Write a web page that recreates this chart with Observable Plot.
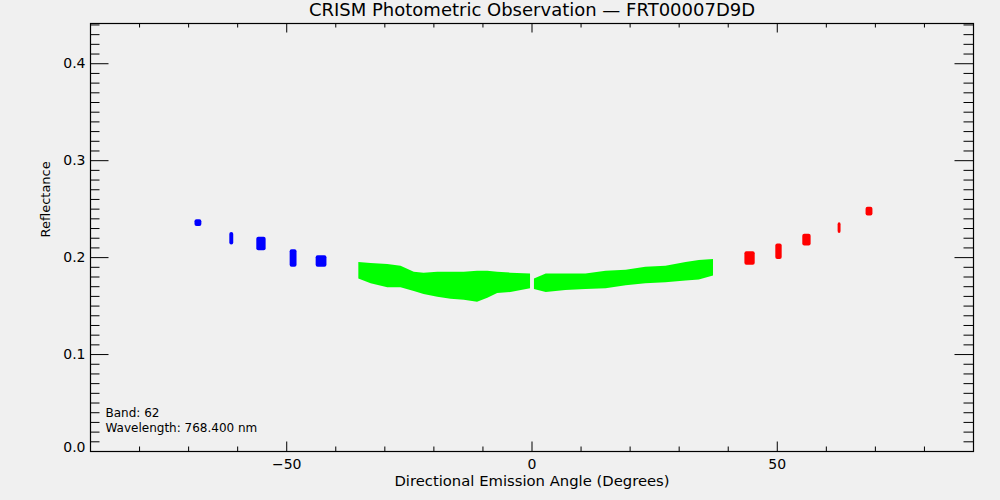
<!DOCTYPE html>
<html><head><meta charset="utf-8">
<script src="https://cdn.jsdelivr.net/npm/d3@7"></script>
<script src="https://cdn.jsdelivr.net/npm/@observablehq/plot@0.6"></script>
<style>html,body{margin:0;padding:0;background:#f0f0f0;}</style>
</head><body><div id="chart"></div>
<script>
// ---- data ----
const titleText = "CRISM Photometric Observation \u2014 FRT00007D9D";
const xLabel = "Directional Emission Angle (Degrees)";
const yLabel = "Reflectance";
const noteLines = ["Band: 62", "Wavelength: 768.400 nm"];

const angleTicksMajor = [-50, 0, 50];
const angleTicksMinor = [-80, -70, -60, -40, -30, -20, -10, 10, 20, 30, 40, 60, 70, 80];
const reflTicksMajor = [0, 0.1, 0.2, 0.3, 0.4];
const reflTicksMinor = [0.01,0.02,0.03,0.04,0.05,0.06,0.07,0.08,0.09,
  0.11,0.12,0.13,0.14,0.15,0.16,0.17,0.18,0.19,
  0.21,0.22,0.23,0.24,0.25,0.26,0.27,0.28,0.29,
  0.31,0.32,0.33,0.34,0.35,0.36,0.37,0.38,0.39,
  0.41,0.42,0.43,0.44];

// green: nadir-ish band (angle, low, high, segment)
const greenAngle = [-35.3,-32.8,-29.4,-26.7,-24.0,-22.0,-19.2,-16.5,-13.8,-11.1,-9.0,-7.0,-4.3,-0.3,
                    0.5,2.9,6.9,11.0,15.1,19.2,23.2,27.3,31.4,34.1,37.0];
const greenLow   = [0.178,0.173,0.169,0.169,0.165,0.162,0.159,0.157,0.156,0.154,0.158,0.163,0.164,0.168,
                    0.167,0.164,0.166,0.167,0.168,0.171,0.173,0.174,0.176,0.177,0.181];
const greenHigh  = [0.195,0.194,0.193,0.191,0.185,0.184,0.185,0.185,0.185,0.186,0.186,0.185,0.184,0.183,
                    0.178,0.183,0.183,0.183,0.186,0.187,0.190,0.191,0.195,0.197,0.198];
const greenSegment = ["a","a","a","a","a","a","a","a","a","a","a","a","a","a",
                      "b","b","b","b","b","b","b","b","b","b","b"];

// blue: negative-angle clusters (angle range, reflectance range)
const blueAngleLo = [-68.7, -61.6, -56.1, -49.3, -44.0];
const blueAngleHi = [-67.3, -60.8, -54.2, -47.9, -41.8];
const blueReflLo  = [0.232, 0.213, 0.207, 0.190, 0.190];
const blueReflHi  = [0.239, 0.226, 0.221, 0.208, 0.202];

// red: positive-angle clusters
const redAngleLo = [43.4, 49.7, 55.2, 62.4, 68.1];
const redAngleHi = [45.5, 51.0, 56.9, 63.0, 69.5];
const redReflLo  = [0.192, 0.198, 0.212, 0.225, 0.243];
const redReflHi  = [0.206, 0.214, 0.224, 0.236, 0.252];

// ---- build tables ----
const green = greenAngle.map((a, i) => ({a, lo: greenLow[i], hi: greenHigh[i], s: greenSegment[i]}));
const blue = blueAngleLo.map((a, i) => ({a1: a, a2: blueAngleHi[i], r1: blueReflLo[i], r2: blueReflHi[i]}));
const red = redAngleLo.map((a, i) => ({a1: a, a2: redAngleHi[i], r1: redReflLo[i], r2: redReflHi[i]}));

const W = 1000, H = 500, mT = 23, mR = 27, mB = 49, mL = 90;
const FW = W - mL - mR, FH = H - mT - mB;
const font = "'DejaVu Sans', 'Liberation Sans', sans-serif";

const chart = Plot.plot({
  width: W, height: H,
  marginTop: mT, marginRight: mR, marginBottom: mB, marginLeft: mL,
  style: {background: "#f0f0f0", fontFamily: font, fontSize: "14px", color: "black"},
  x: {domain: [-90, 90]},
  y: {domain: [0, 0.4415]},
  marks: [
    Plot.areaY(green, {x: "a", y1: "lo", y2: "hi", z: "s", fill: "#00ff00"}),
    Plot.rect(blue, {x1: "a1", x2: "a2", y1: "r1", y2: "r2", fill: "#0000ff", rx: 2}),
    Plot.rect(red, {x1: "a1", x2: "a2", y1: "r1", y2: "r2", fill: "#ff0000", rx: 2}),
    // inward ticks, all four sides
    Plot.ruleX(angleTicksMinor, {x: d => d, insetTop: FH - 4.5, stroke: "black"}),
    Plot.ruleX(angleTicksMajor, {x: d => d, insetTop: FH - 9.5, stroke: "black"}),
    Plot.ruleX(angleTicksMinor, {x: d => d, insetBottom: FH - 4.5, stroke: "black"}),
    Plot.ruleX(angleTicksMajor, {x: d => d, insetBottom: FH - 9.5, stroke: "black"}),
    Plot.ruleY(reflTicksMinor, {y: d => d, insetRight: FW - 9.5, stroke: "black"}),
    Plot.ruleY(reflTicksMajor, {y: d => d, insetRight: FW - 18.5, stroke: "black"}),
    Plot.ruleY(reflTicksMinor, {y: d => d, insetLeft: FW - 9.5, stroke: "black"}),
    Plot.ruleY(reflTicksMajor, {y: d => d, insetLeft: FW - 18.5, stroke: "black"}),
    Plot.frame({stroke: "black", strokeWidth: 1.2}),
    Plot.axisX({ticks: angleTicksMajor, tickSize: 0, tickPadding: 8, label: null, fontSize: 14, fill: "black"}),
    Plot.axisY({ticks: reflTicksMajor.slice(1), tickSize: 0, tickPadding: 5, label: null, fontSize: 14, fill: "black", tickFormat: d3.format(".1f")}),
    Plot.axisY({ticks: reflTicksMajor.slice(0, 1), tickSize: 0, tickPadding: 5, label: null, fontSize: 14, fill: "black", dy: -4, tickFormat: d3.format(".1f")}),
    Plot.text([titleText], {frameAnchor: "top", dy: -13, lineAnchor: "middle", fontSize: 18, fill: "black"}),
    Plot.text([xLabel], {frameAnchor: "bottom", dy: 30, lineAnchor: "middle", fontSize: 14.8, fill: "black"}),
    Plot.text([yLabel], {frameAnchor: "left", dx: -45, rotate: -90, lineAnchor: "middle", fontSize: 13, fill: "black"}),
    Plot.text([noteLines[0]], {frameAnchor: "bottom-left", dx: 15, dy: -38, textAnchor: "start", lineAnchor: "middle", fontSize: 12, fill: "black"}),
    Plot.text([noteLines[1]], {frameAnchor: "bottom-left", dx: 15, dy: -23, textAnchor: "start", lineAnchor: "middle", fontSize: 12, fill: "black"})
  ]
});
document.getElementById("chart").appendChild(chart);
</script>
</body></html>
